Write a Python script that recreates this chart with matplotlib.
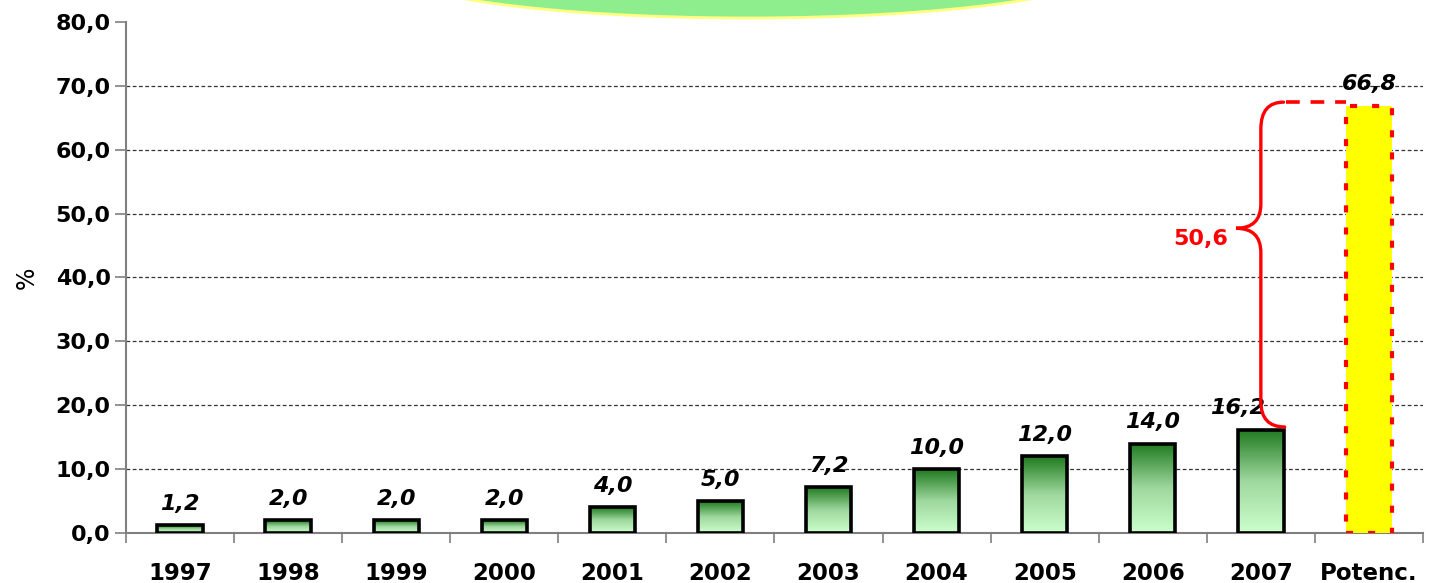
import matplotlib
matplotlib.use('Agg')
import matplotlib.pyplot as plt
import numpy as np
from matplotlib.colors import LinearSegmentedColormap
from matplotlib.patches import Rectangle, Ellipse, PathPatch
from matplotlib.path import Path

# data
years = ['1997', '1998', '1999', '2000', '2001', '2002', '2003',
         '2004', '2005', '2006', '2007']
shares = [1.2, 2.0, 2.0, 2.0, 4.0, 5.0, 7.2, 10.0, 12.0, 14.0, 16.2]
potential_label = 'Potenc.'
potential = 66.8
gap_label = '50,6'

labels = years + [potential_label]
n = len(labels)
bar_w = 0.42

fig = plt.figure(figsize=(14.32, 5.83), dpi=100)
ax = fig.add_axes([0.088, 0.0858, 0.9057, 0.8765])

# green gradient bars (dark on top, light at bottom)
cmap = LinearSegmentedColormap.from_list('g', ['#ccffcc', '#9fd89f', '#1f7a1f'])
grad = np.linspace(1, 0, 256).reshape(-1, 1)
for i, v in enumerate(shares):
    ax.imshow(grad, cmap=cmap, aspect='auto', vmin=0, vmax=1,
              extent=[i - bar_w / 2, i + bar_w / 2, 0, v], zorder=2)
    ax.add_patch(Rectangle((i - bar_w / 2, 0), bar_w, v, fill=False,
                           edgecolor='black', lw=2.6, zorder=3))
    dx = -0.22 if i == len(shares) - 1 else 0
    ax.annotate(f'{v:.1f}'.replace('.', ','), (i + dx, v), xytext=(0, 8),
                textcoords='offset points', ha='center', va='bottom',
                fontsize=16, fontweight='bold', fontstyle='italic', zorder=4)

# potential bar
ip = len(shares)
ax.add_patch(Rectangle((ip - bar_w / 2, 0), bar_w, potential,
                       facecolor='#ffff00', edgecolor='#ff0000', lw=3,
                       linestyle=(0, (1.7, 3.6)), zorder=3))
ax.annotate(f'{potential:.1f}'.replace('.', ','), (ip, potential), xytext=(0, 9),
            textcoords='offset points', ha='center', va='bottom',
            fontsize=16, fontweight='bold', fontstyle='italic', zorder=4)

# brace showing the gap
xb = ip - 1
top_y = potential + 0.65
bot_y = shares[-1] + 0.4
tip_y = 47.7
verts = [(xb + 0.21, top_y), (xb, top_y), (xb, top_y - 4.2),
         (xb, tip_y + 3.8), (xb, tip_y), (xb - 0.23, tip_y),
         (xb, tip_y), (xb, tip_y - 3.8),
         (xb, bot_y + 4.0), (xb, bot_y), (xb + 0.22, bot_y)]
codes = [Path.MOVETO, Path.CURVE3, Path.CURVE3,
         Path.LINETO, Path.CURVE3, Path.CURVE3,
         Path.CURVE3, Path.CURVE3,
         Path.LINETO, Path.CURVE3, Path.CURVE3]
ax.add_patch(PathPatch(Path(verts, codes), fill=False, edgecolor='#ff0000',
                       lw=2.4, zorder=4, capstyle='round'))
ax.plot([xb + 0.23, ip - bar_w / 2], [top_y, top_y], color='#ff0000', lw=2.6,
        linestyle=(0, (3.8, 3.0)), zorder=4)
ax.text(xb - 0.3, tip_y - 1.7, gap_label, color='#ff0000', fontsize=16,
        fontweight='bold', ha='right', va='center', zorder=4)

# axes styling
ax.set_xlim(-0.5, n - 0.5)
ax.set_ylim(0, 80)
ax.set_yticks(np.arange(0, 81, 10))
ax.set_yticklabels([f'{t:.1f}'.replace('.', ',') for t in np.arange(0, 81, 10)],
                   fontsize=16, fontweight='bold')
ax.set_xticks(range(n))
ax.set_xticklabels(labels, fontsize=16.5, fontweight='bold')
ax.set_xticks(np.arange(-0.5, n, 1), minor=True)
ax.tick_params(axis='x', which='major', length=0, pad=21)
ax.tick_params(axis='x', which='minor', length=7, width=1.2, color='#808080')
ax.tick_params(axis='y', length=8, width=1.2, color='#808080', pad=3)
for t in np.arange(10, 71, 10):
    ax.axhline(t, color='#333333', lw=0.9, linestyle=(0, (3, 2)), zorder=1)
for s in ['top', 'right']:
    ax.spines[s].set_visible(False)
for s in ['left', 'bottom']:
    ax.spines[s].set_color('#808080')
    ax.spines[s].set_linewidth(1.5)
ax.set_ylabel('%', fontsize=17)
ax.yaxis.set_label_coords(-0.067, 0.5)

# cut-off title shape at the top
fig.patches.append(Ellipse((0.5223, 1.0549), 0.5028, 0.1715,
                           transform=fig.transFigure, facecolor='#8eee8e',
                           edgecolor='#ffff80', lw=2, zorder=0))

fig.savefig('out.png', dpi=100)
